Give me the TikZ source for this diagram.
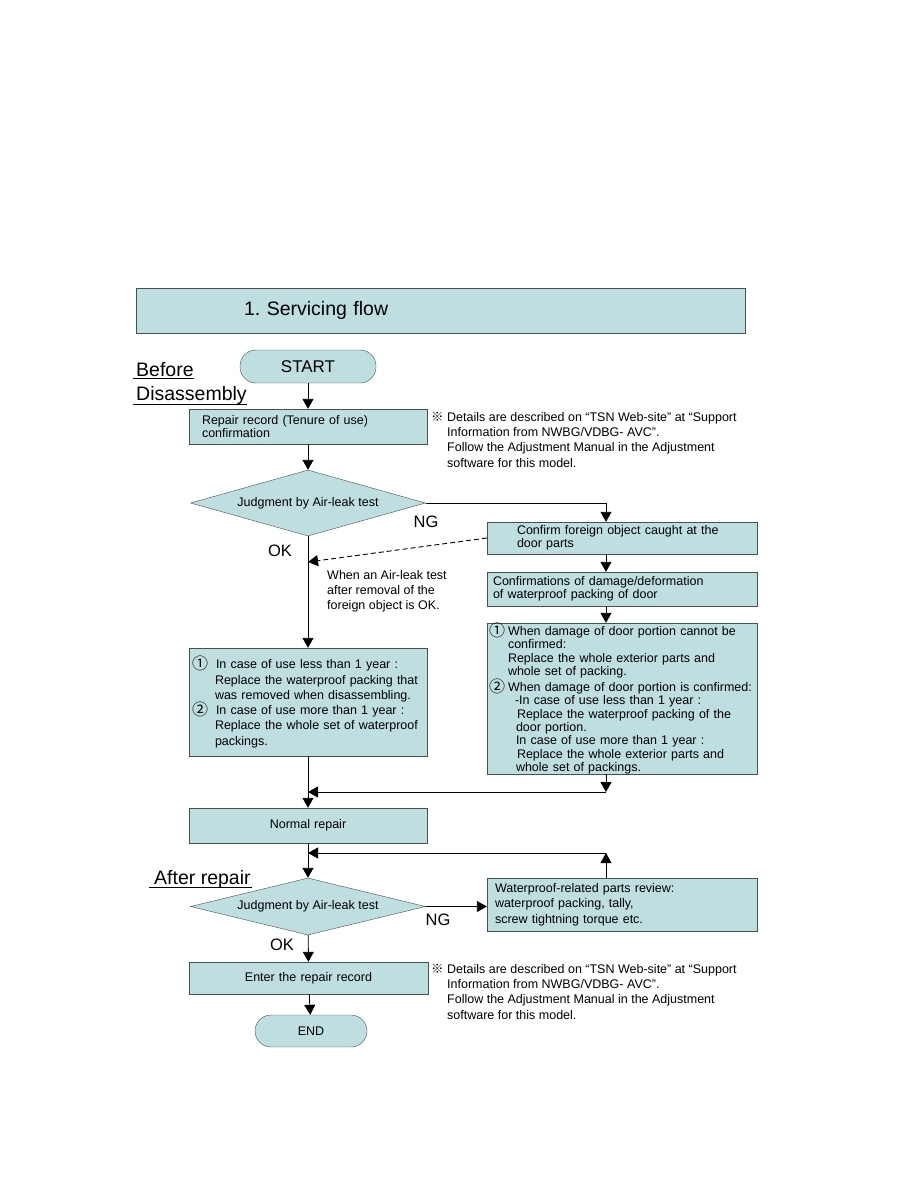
\documentclass[tikz,border=0pt]{standalone}
\usepackage{fontspec}
\setmainfont{Liberation Sans}
\newfontfamily\cjksym{Noto Sans CJK JP}
\usetikzlibrary{shapes.geometric,arrows.meta}
\frenchspacing

\definecolor{boxfill}{RGB}{190,222,224}
\definecolor{boxline}{RGB}{70,80,82}
\newcommand{\txt}{\fontsize{12.5}{13.3}\selectfont}
\newcommand{\txtwide}{\fontsize{12.5}{15.3}\selectfont}
\newcommand{\headfont}{\fontsize{19.5}{22}\selectfont}
\newcommand{\circno}[2]{\makebox[#1][l]{\raisebox{-1pt}{\fontsize{16}{16}\cjksym #2}}}

\begin{document}
\begin{tikzpicture}[x=1pt, y=-1pt,
	procbox/.style={draw=boxline, fill=boxfill, rectangle, inner ysep=0pt, font=\txt, align=left},
	termbox/.style={draw=boxline, fill=boxfill, rectangle, rounded corners=16pt, inner sep=0pt},
	decision/.style={draw=boxline, fill=boxfill, diamond, inner sep=0pt, font=\txt},
	notetext/.style={anchor=north west, align=left, inner sep=0pt, font=\txtwide},
	heading/.style={anchor=base west, inner sep=0pt, font=\headfont},
	yesno/.style={inner sep=0pt, font=\fontsize{16.5}{18}\selectfont},
	flow/.style={-{Triangle[length=10pt,width=11pt]}, line width=0.9pt}]
	\useasboundingbox (0,0) rectangle (918,1188);

	% title bar
	\node[procbox, font=\fontsize{19.5}{22}\selectfont, minimum height=45pt, text width=393pt, inner xsep=108pt] (title) at (440.5,310.5) {1. Servicing flow};

	% before disassembly
	\node[termbox, minimum width=136pt, minimum height=33pt, font=\fontsize{17}{19}\selectfont] (start) at (308,366.5) {START};
	\node[heading] (before) at (136,376) {Before};
	\node[heading] (disasm) at (136,400) {Disassembly};
	\draw[line width=0.8pt] ([xshift=-3pt,yshift=-2.5pt]before.base west) -- ([yshift=-2.5pt]before.base east);
	\draw[line width=0.8pt] ([xshift=-3pt,yshift=-4pt]disasm.base west) -- ([yshift=-4pt]disasm.base east);

	\node[procbox, text width=212pt, inner xsep=13pt, minimum height=35pt] (repair) at (308,426.5) {Repair record (Tenure of use)\\confirmation};
	\node[notetext] (mark1) at (431,412) {\cjksym ※};
	\node[notetext] (note1) at (447,412) {Details are described on “TSN Web-site” at “Support\\Information from NWBG/VDBG- AVC”.\\Follow the Adjustment Manual in the Adjustment\\software for this model.};

	\node[decision, shape aspect=3.56, minimum width=235pt, minimum height=66pt] (judge1) at (308,503) {Judgment by Air-leak test};
	\node[yesno] (ng1) at (426,522) {NG};
	\node[yesno] (ok1) at (280,551) {OK};

	% NG branch
	\coordinate (rcol) at (606,0);
	\node[procbox, text width=210pt, inner xsep=30pt, minimum height=32pt] (foreign) at (622,538) {Confirm foreign object caught at the\\door parts};
	\node[procbox, text width=258pt, inner xsep=6pt, minimum height=34pt] (damage) at (622,589) {Confirmations of damage/deformation\\of waterproof packing of door};
	\node[procbox, text width=266pt, inner xsep=2pt, minimum height=151pt] (doorbox) at (622,698.5) {%
		\circno{19pt}{①}When damage of door portion cannot be\\
		\hspace*{19pt}confirmed:\\
		\hspace*{19pt}Replace the whole exterior parts and\\
		\hspace*{19pt}whole set of packing.\\
		\circno{19pt}{②}When damage of door portion is confirmed:\\
		\hspace*{26pt}-In case of use less than 1 year :\\
		\hspace*{28pt}Replace the waterproof packing of the\\
		\hspace*{27pt}door portion.\\
		\hspace*{27pt}In case of use more than 1 year :\\
		\hspace*{28pt}Replace the whole exterior parts and\\
		\hspace*{27pt}whole set of packings.};

	% OK branch
	\coordinate (okjoin) at (308,562);
	\node[notetext] (whenok) at (327,570) {When an Air-leak test\\after removal of the\\foreign object is OK.};
	\node[procbox, font=\txtwide, text width=232pt, inner xsep=3pt, minimum height=108pt] (leftbox) at (308,702) {%
		\circno{24pt}{①}In case of use less than 1 year :\\
		\hspace*{23pt}Replace the waterproof packing that\\
		\hspace*{23pt}was removed when disassembling.\\
		\circno{24pt}{②}In case of use more than 1 year :\\
		\hspace*{23pt}Replace the whole set of waterproof\\
		\hspace*{23pt}packings.};

	\coordinate (mergeR) at (606,792);
	\coordinate (mergeL) at (308,792);
	\node[procbox, align=center, text width=226pt, inner xsep=6pt, minimum height=35pt] (normal) at (308,825.5) {Normal repair};

	% after repair
	\node[heading] (after) at (154,884) {After repair};
	\draw[line width=0.8pt] ([xshift=-5pt,yshift=-3pt]after.base west) -- ([xshift=1pt,yshift=-3pt]after.base east);
	\coordinate (loopR) at (606,853);
	\coordinate (loopL) at (308,853);
	\node[decision, shape aspect=4.12, minimum width=235pt, minimum height=57pt] (judge2) at (308,906.5) {Judgment by Air-leak test};
	\node[yesno] (ng2) at (438,920) {NG};
	\node[yesno] (ok2) at (282,945) {OK};
	\node[procbox, font=\txtwide, text width=254pt, inner xsep=8pt, minimum height=53pt] (review) at (622,904.5) {Waterproof-related parts review:\\waterproof packing, tally,\\screw tightning torque etc.};

	\node[procbox, align=center, text width=227pt, inner xsep=6pt, minimum height=32pt] (enter) at (308.5,978) {Enter the repair record};
	\node[notetext] (mark2) at (431,964) {\cjksym ※};
	\node[notetext] (note2) at (447,964) {Details are described on “TSN Web-site” at “Support\\Information from NWBG/VDBG- AVC”.\\Follow the Adjustment Manual in the Adjustment\\software for this model.};
	\node[termbox, minimum width=112pt, minimum height=32pt, font=\txt] (finish) at (311,1031) {END};

	% connectors
	\draw[flow] (start) -- (repair);
	\draw[flow] (repair) -- (judge1);
	\draw[flow] (judge1.east) -| (foreign.north -| rcol);
	\draw[flow] (foreign.south -| rcol) -- (damage.north -| rcol);
	\draw[flow] (damage.south -| rcol) -- (doorbox.north -| rcol);
	\draw[flow, dash pattern=on 5pt off 3pt] (foreign.west) -- (okjoin);
	\draw[flow] (judge1) -- (leftbox);
	\draw[flow] (leftbox) -- (normal);
	\draw[flow] (doorbox.south -| rcol) -- (mergeR);
	\draw[flow] (mergeR) -- (mergeL);
	\draw[flow] (normal) -- (judge2);
	\draw[flow] (judge2.east) -- (review.west |- judge2.east);
	\draw[flow] (review.north -| rcol) -- (loopR);
	\draw[flow] (loopR) -- (loopL);
	\draw[flow] (judge2) -- (enter);
	\draw[flow] (enter) -- (finish);
\end{tikzpicture}
\end{document}
